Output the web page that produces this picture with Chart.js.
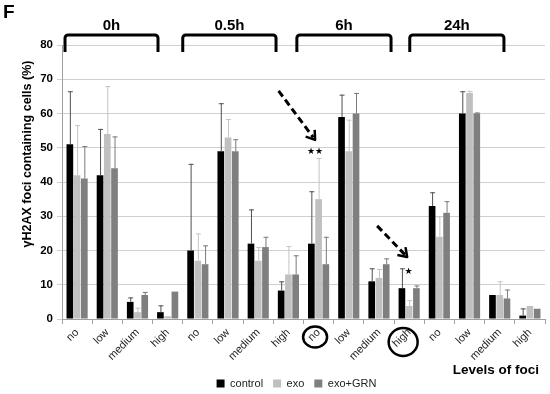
<!DOCTYPE html>
<html><head><meta charset="utf-8">
<script src="https://cdn.jsdelivr.net/npm/chart.js@4.4.1/dist/chart.umd.min.js"></script>
<style>html,body{margin:0;padding:0;background:#fff;overflow:hidden}#wrap{width:550px;height:394px;position:relative}</style>
</head><body><div id="wrap"><canvas id="c"></canvas></div>
<script>
const categories = ["no","low","medium","high","no","low","medium","high","no","low","medium","high","no","low","medium","high"];
const timeGroups = ["0h","0.5h","6h","24h"];
const seriesNames = ["control","exo","exo+GRN"];
const yTicks = [0,10,20,30,40,50,60,70,80];

const controlValues = [51,42,5,2, 20,49,22,8.3, 22,59,11,9, 33,60,7,1];
const controlErrors = [15.5,13.5,1.3,2, 25.3,14,10,2.7, 15.3,6.5,3.8,5.8, 4,6.5,0,2.1];
const exoValues     = [42,54,2,0.8, 17,53,17,13, 35,49,12,3.8, 24,66,7,3.8];
const exoErrors     = [14.6,14,1.3,0, 8,5.4,4,8.3, 12,9.2,2.6,1.7, 6,0.6,4,0];
const exoGrnValues  = [41,44,7,8, 16,49,21,13, 16,60,16,9, 31,60,6,3];
const exoGrnErrors  = [9.5,9.3,0.9,0, 5.5,3.5,3,5.6, 8,6,1.7,0.8, 3.4,0.3,2.6,0];

const FONT = "'Liberation Sans', Arial, sans-serif";

const errorBarPlugin = {
  id: 'errorBars',
  afterDatasetsDraw(chart) {
    const ctx = chart.ctx, y = chart.scales.y;
    chart.data.datasets.forEach((ds, i) => {
      const meta = chart.getDatasetMeta(i);
      meta.data.forEach((bar, j) => {
        const e = ds.errors[j];
        if (!e) return;
        const top = y.getPixelForValue(ds.data[j] + e);
        ctx.save();
        ctx.strokeStyle = ds.errorColor;
        ctx.lineWidth = 1;
        ctx.beginPath();
        ctx.moveTo(bar.x + 0.5, bar.y);
        ctx.lineTo(bar.x + 0.5, top);
        ctx.moveTo(bar.x - 2, top + 0.5);
        ctx.lineTo(bar.x + 3, top + 0.5);
        ctx.stroke();
        ctx.restore();
      });
    });
  }
};

const legendNudgePlugin = {
  id: 'legendNudge',
  afterLayout(chart) {
    const lg = chart.legend;
    if (!lg) return;
    lg.left += 24; lg.right += 24;
    lg.top += 5; lg.bottom += 5;
  }
};

function arrow(ctx, x1, y1, x2, y2) {
  ctx.save();
  ctx.strokeStyle = '#000';
  ctx.lineWidth = 3;
  ctx.setLineDash([7, 4]);
  const ang = Math.atan2(y2 - y1, x2 - x1);
  ctx.beginPath();
  ctx.moveTo(x1, y1);
  ctx.lineTo(x2 - 3 * Math.cos(ang), y2 - 3 * Math.sin(ang));
  ctx.stroke();
  ctx.setLineDash([]);
  ctx.lineWidth = 2.5;
  ctx.beginPath();
  const L = 10;
  ctx.moveTo(x2 - L * Math.cos(ang - 0.6), y2 - L * Math.sin(ang - 0.6));
  ctx.lineTo(x2, y2);
  ctx.lineTo(x2 - L * Math.cos(ang + 0.6), y2 - L * Math.sin(ang + 0.6));
  ctx.stroke();
  ctx.restore();
}

const annotationPlugin = {
  id: 'annotations',
  afterDraw(chart) {
    const ctx = chart.ctx, xs = chart.scales.x, ys = chart.scales.y, ca = chart.chartArea;
    const catW = (xs.right - xs.left) / categories.length;
    const fx = f => xs.left + f * catW;
    const cx = i => xs.getPixelForValue(i);
    ctx.save();
    // panel letter
    ctx.fillStyle = '#000';
    ctx.font = "bold 19px " + FONT;
    ctx.textBaseline = 'top';
    ctx.textAlign = 'left';
    ctx.fillText('F', 3, 3);
    // group brackets
    const spans = [[0.1, 3.18], [4.0, 7.09], [7.78, 10.9], [11.52, 14.64]];
    ctx.strokeStyle = '#000';
    ctx.lineWidth = 3;
    ctx.lineJoin = 'round';
    const bt = ca.top - 10, bb = ca.top + 7, r = 3;
    spans.forEach((s, k) => {
      const x1 = fx(s[0]), x2 = fx(s[1]);
      ctx.beginPath();
      ctx.moveTo(x1, bb);
      ctx.lineTo(x1, bt + r);
      ctx.arcTo(x1, bt, x1 + r, bt, r);
      ctx.lineTo(x2 - r, bt);
      ctx.arcTo(x2, bt, x2, bt + r, r);
      ctx.lineTo(x2, bb);
      ctx.stroke();
      ctx.font = "bold 15px " + FONT;
      ctx.textAlign = 'center';
      ctx.textBaseline = 'middle';
      ctx.fillText(timeGroups[k], (x1 + x2) / 2, ca.top - 19);
    });
    // y axis title
    ctx.save();
    ctx.translate(28, 154);
    ctx.rotate(-Math.PI / 2);
    ctx.font = "bold 12.5px " + FONT;
    ctx.textAlign = 'center';
    ctx.textBaseline = 'middle';
    ctx.fillText('γH2AX foci containing cells (%)', 0, 0);
    ctx.restore();
    // x axis title
    ctx.font = "bold 13.5px " + FONT;
    ctx.textAlign = 'right';
    ctx.textBaseline = 'middle';
    ctx.fillText('Levels of foci', chart.width - 11, 370);
    // arrows and stars
    arrow(ctx, cx(8) - 40, ys.getPixelForValue(66.6), cx(8) - 3.5, ys.getPixelForValue(52.3));
    arrow(ctx, cx(11) - 32, ys.getPixelForValue(27.2), cx(11) - 2, ys.getPixelForValue(18.1));
    ctx.font = "9px 'DejaVu Sans', sans-serif";
    ctx.textAlign = 'center';
    ctx.textBaseline = 'middle';
    ctx.fillText('★★', cx(8) - 3.5, ys.getPixelForValue(48.8));
    ctx.fillText('★', cx(11) - 0.5, ys.getPixelForValue(13.7));
    // circled labels
    ctx.lineWidth = 2.5;
    ctx.beginPath();
    ctx.ellipse(cx(8) - 3.5, ca.bottom + 18, 12, 10.5, 0, 0, Math.PI * 2);
    ctx.stroke();
    ctx.beginPath();
    ctx.ellipse(cx(11) - 6, ca.bottom + 23, 14.5, 14, 0, 0, Math.PI * 2);
    ctx.stroke();
    ctx.restore();
  }
};

new Chart(document.getElementById('c'), {
  type: 'bar',
  data: {
    labels: categories,
    datasets: [
      { label: seriesNames[0], data: controlValues, errors: controlErrors, errorColor: '#505050', backgroundColor: '#000000' },
      { label: seriesNames[1], data: exoValues, errors: exoErrors, errorColor: '#c4c4c4', backgroundColor: '#c0c0c0' },
      { label: seriesNames[2], data: exoGrnValues, errors: exoGrnErrors, errorColor: '#7a7a7a', backgroundColor: '#7f7f7f' }
    ]
  },
  options: {
    responsive: true,
    maintainAspectRatio: false,
    animation: false,
    devicePixelRatio: 1,
    layout: { padding: { top: 45, right: 5, left: 0, bottom: 0 } },
    datasets: { bar: { categoryPercentage: 0.72, barPercentage: 0.92 } },
    plugins: {
      tooltip: { enabled: false },
      legend: {
        position: 'bottom',
        labels: { boxWidth: 8, boxHeight: 8, padding: 10, color: '#222', font: { family: FONT, size: 11 } }
      }
    },
    scales: {
      x: {
        grid: { display: true, drawOnChartArea: false, offset: true, tickLength: 5, color: '#a0a0a0' },
        border: { color: '#a0a0a0' },
        ticks: { autoSkip: false, maxRotation: 45, minRotation: 45, padding: 2, color: '#222', font: { family: FONT, size: 11 } },
        afterFit: s => { s.height = 44; }
      },
      y: {
        min: 0, max: 80,
        afterBuildTicks: s => { s.ticks = yTicks.map(v => ({ value: v })); },
        grid: { color: '#d0d0d0', tickLength: 5 },
        border: { color: '#a0a0a0' },
        ticks: { padding: 4, color: '#000', font: { family: FONT, size: 11.5, weight: 'bold' } },
        afterFit: s => { s.width = 62; }
      }
    }
  },
  plugins: [errorBarPlugin, legendNudgePlugin, annotationPlugin]
});
</script>
</body></html>
